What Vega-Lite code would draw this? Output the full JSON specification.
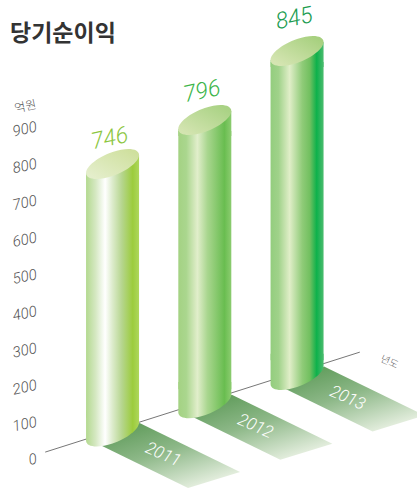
{
"$schema":"https://vega.github.io/schema/vega-lite/v6.json",
"width":417,"height":490,"padding":0,"autosize":{"type":"none"},
"background":"white",
"config":{"view":{"stroke":null}},
"title":{"text":"당기순이익","anchor":"start","dx":10,"offset":-64,"baseline":"alphabetic","font":"Noto Sans CJK KR","fontSize":23,"fontWeight":"bold","color":"#333333"},
"data":{"values":[{"year":2011,"value":746},{"year":2012,"value":796},{"year":2013,"value":845}]},
"resolve":{"scale":{"y":"independent"}},
"layer":[
{"data":{"values":[{"unit":"년도"}]},
 "mark":{"type":"rule","color":"#777777","strokeWidth":1},
  "encoding":{
   "x":{"datum":2010.27,"type":"quantitative","scale":{"domain":[2009.78,2014.3],"range":[0,417],"nice":false,"zero":false,"padding":0},"axis":null},
   "x2":{"datum":2013.68},
   "y":{"datum":16,"type":"quantitative","scale":{"domain":[0,900],"range":[458,126],"nice":false,"zero":false},
    "axis":{"orient":"left","values":[0,100,200,300,400,500,600,700,800,900],"offset":-36,"domain":false,"ticks":false,"grid":false,"labelPadding":0,"labelAngle":-12,"labelAlign":"right","labelBaseline":"middle","labelFont":"Roboto","labelFontStyle":"italic","labelFontWeight":300,"labelFontSize":15,"labelColor":"#555555","title":"억원","titleX":-11,"titleY":106,"titleAngle":-12,"titleAlign":"center","titleBaseline":"middle","titleFont":"Noto Sans CJK KR","titleFontWeight":300,"titleFontSize":12,"titleColor":"#555555"}},
   "y2":{"datum":287}}},
{"data":{"values":[{"unit":"년도"}]},
 "mark":{"type":"text","angle":25,"font":"Noto Sans CJK KR","fontSize":10,"fontWeight":300,"color":"#666666"},
  "encoding":{"text":{"field":"unit"},"x":{"datum":2014.0,"type":"quantitative"},"y":{"datum":260,"type":"quantitative","scale":{"domain":[0,900],"range":[458,126],"nice":false,"zero":false},"axis":null}}},
{"mark":{"type":"point","filled":true,"opacity":1,"size":10000,"strokeWidth":0,"shape":"M-.25,.27L.54,-.17L2.55,.81L1.51,1.13Z",
   "color":{"gradient":"linear","x1":0.1,"y1":0.05,"x2":0.75,"y2":1,"stops":[{"offset":0,"color":"#5d9a58"},{"offset":0.45,"color":"#8db888"},{"offset":1,"color":"#ecf3e6"}]}},
  "encoding":{
   "x":{"field":"year","type":"quantitative"},
   "yOffset":{"field":"year","type":"quantitative","scale":{"domain":[2011,2013],"range":[0,-56.5]}},
   "y":{"datum":0,"type":"quantitative","scale":{"domain":[0,746,796,845],"range":[431.5,164,148.5,107.5],"zero":false,"nice":false},"axis":null}}},
{"transform":[{"filter":"datum.year==2011"}],
 "mark":{"type":"bar","orient":"vertical","width":53,"color":{"gradient":"linear","stops":[{"offset":0,"color":"#b3d98f"},{"offset":0.18,"color":"#d5e8c2"},{"offset":0.36,"color":"#ffffff"},{"offset":0.5,"color":"#dcebcb"},{"offset":0.68,"color":"#b5d58d"},{"offset":0.88,"color":"#9ccc3c"},{"offset":1,"color":"#aed75c"}]}},
 "encoding":{"x":{"field":"year","type":"quantitative"},
   "y":{"field":"value","type":"quantitative","scale":{"domain":[0,746],"range":[431.5,175],"zero":false,"nice":false},"axis":null},
   "y2":{"datum":40}}},
{"transform":[{"filter":"datum.year==2012"}],
 "mark":{"type":"bar","orient":"vertical","width":53,"color":{"gradient":"linear","stops":[{"offset":0,"color":"#a4d283"},{"offset":0.15,"color":"#aad68e"},{"offset":0.36,"color":"#e1eecb"},{"offset":0.55,"color":"#a9d68f"},{"offset":0.87,"color":"#69bd50"},{"offset":1,"color":"#8ccc70"}]}},
 "encoding":{"x":{"field":"year","type":"quantitative"},
   "y":{"field":"value","type":"quantitative","scale":{"domain":[0,796],"range":[403,131],"zero":false,"nice":false},"axis":null},
   "y2":{"datum":40}}},
{"transform":[{"filter":"datum.year==2013"}],
 "mark":{"type":"bar","orient":"vertical","width":53,"color":{"gradient":"linear","stops":[{"offset":0,"color":"#93cd7e"},{"offset":0.15,"color":"#a0d28a"},{"offset":0.36,"color":"#e0eec8"},{"offset":0.6,"color":"#8fcb78"},{"offset":0.74,"color":"#72c060"},{"offset":0.87,"color":"#0db14b"},{"offset":1,"color":"#4cbc6f"}]}},
 "encoding":{"x":{"field":"year","type":"quantitative"},
   "y":{"field":"value","type":"quantitative","scale":{"domain":[0,845],"range":[375,62],"zero":false,"nice":false},"axis":null},
   "y2":{"datum":40}}},
{"mark":{"type":"point","filled":true,"opacity":1,"size":2809,"strokeWidth":0,"shape":"M-1,-.8L-1,.34C-1,.59 -.552,.641 0,.453C.552,.265 1,-.09 1,-.34L1,-.8Z"},
 "encoding":{
   "x":{"field":"year","type":"quantitative"},
   "yOffset":{"field":"year","type":"quantitative","scale":{"domain":[2011,2013],"range":[0,-56.5]}},
   "y":{"datum":0,"type":"quantitative","scale":{"domain":[0,746,796,845],"range":[431.5,164,148.5,107.5],"zero":false,"nice":false},"axis":null},
   "fill":{"condition":[
    {"test":"datum.year==2011","value":{"gradient":"linear","stops":[{"offset":0,"color":"#b3d98f"},{"offset":0.18,"color":"#d5e8c2"},{"offset":0.36,"color":"#ffffff"},{"offset":0.5,"color":"#dcebcb"},{"offset":0.68,"color":"#b5d58d"},{"offset":0.88,"color":"#9ccc3c"},{"offset":1,"color":"#aed75c"}]}},
    {"test":"datum.year==2012","value":{"gradient":"linear","stops":[{"offset":0,"color":"#a4d283"},{"offset":0.15,"color":"#aad68e"},{"offset":0.36,"color":"#e1eecb"},{"offset":0.55,"color":"#a9d68f"},{"offset":0.87,"color":"#69bd50"},{"offset":1,"color":"#8ccc70"}]}}
   ],"value":{"gradient":"linear","stops":[{"offset":0,"color":"#93cd7e"},{"offset":0.15,"color":"#a0d28a"},{"offset":0.36,"color":"#e0eec8"},{"offset":0.6,"color":"#8fcb78"},{"offset":0.74,"color":"#72c060"},{"offset":0.87,"color":"#0db14b"},{"offset":1,"color":"#4cbc6f"}]}}}},
{"mark":{"type":"point","filled":true,"opacity":1,"size":2809,"strokeWidth":0,"shape":"M-1,.34L1,-.34L1,.6L-1,.6Z"},
 "encoding":{
   "x":{"field":"year","type":"quantitative"},
   "y":{"field":"value","type":"quantitative","scale":{"domain":[746,796,845],"range":[164,120,51],"zero":false,"nice":false},"axis":null},
   "fill":{"condition":[
    {"test":"datum.year==2011","value":{"gradient":"linear","stops":[{"offset":0,"color":"#b3d98f"},{"offset":0.18,"color":"#d5e8c2"},{"offset":0.36,"color":"#ffffff"},{"offset":0.5,"color":"#dcebcb"},{"offset":0.68,"color":"#b5d58d"},{"offset":0.88,"color":"#9ccc3c"},{"offset":1,"color":"#aed75c"}]}},
    {"test":"datum.year==2012","value":{"gradient":"linear","stops":[{"offset":0,"color":"#a4d283"},{"offset":0.15,"color":"#aad68e"},{"offset":0.36,"color":"#e1eecb"},{"offset":0.55,"color":"#a9d68f"},{"offset":0.87,"color":"#69bd50"},{"offset":1,"color":"#8ccc70"}]}}
   ],"value":{"gradient":"linear","stops":[{"offset":0,"color":"#93cd7e"},{"offset":0.15,"color":"#a0d28a"},{"offset":0.36,"color":"#e0eec8"},{"offset":0.6,"color":"#8fcb78"},{"offset":0.74,"color":"#72c060"},{"offset":0.87,"color":"#0db14b"},{"offset":1,"color":"#4cbc6f"}]}}}},
{"mark":{"type":"point","filled":true,"opacity":1,"size":2809,"strokeWidth":0,"shape":"M1,-.34C1,-.09 .552,.265 0,.453C-.552,.641 -1,.59 -1,.34C-1,.09 -.552,-.265 0,-.453C.552,-.641 1,-.59 1,-.34Z"},
  "encoding":{
   "x":{"field":"year","type":"quantitative"},
   "y":{"field":"value","type":"quantitative","scale":{"domain":[746,796,845],"range":[164,120,51],"zero":false,"nice":false},"axis":null},
   "fill":{"condition":[
    {"test":"datum.year==2011","value":{"gradient":"linear","x1":0.1,"y1":0.9,"x2":0.9,"y2":0.1,"stops":[{"offset":0,"color":"#e4eecb"},{"offset":1,"color":"#cfe09e"}]}},
    {"test":"datum.year==2012","value":{"gradient":"linear","x1":0.1,"y1":0.9,"x2":0.9,"y2":0.1,"stops":[{"offset":0,"color":"#d3e4b0"},{"offset":1,"color":"#a9d284"}]}}
   ],"value":{"gradient":"linear","x1":0.1,"y1":0.9,"x2":0.9,"y2":0.1,"stops":[{"offset":0,"color":"#d5e5b2"},{"offset":1,"color":"#a7d07f"}]}}}},
{"mark":{"type":"text","angle":24,"font":"Roboto","fontStyle":"italic","fontWeight":300,"fontSize":17,"color":"white","dx":55.5,"dy":0.6},
  "encoding":{"text":{"field":"year","type":"nominal"},
   "x":{"field":"year","type":"quantitative"},
   "yOffset":{"field":"year","type":"quantitative","scale":{"domain":[2011,2013],"range":[0,-56.5]}},
   "y":{"datum":0,"type":"quantitative","scale":{"domain":[0,746,796,845],"range":[431.5,164,148.5,107.5],"zero":false,"nice":false},"axis":null}}},
{
 "mark":{"type":"text","angle":-12,"font":"Roboto","fontStyle":"italic","fontWeight":300,"fontSize":23,"dx":-3},
 "encoding":{
  "x":{"field":"year","type":"quantitative"},
  "y":{"field":"value","type":"quantitative","scale":{"domain":[746,796,845],"range":[138,91,18],"zero":false,"nice":false},"axis":null},
  "text":{"field":"value","type":"quantitative"},
  "color":{"field":"year","type":"nominal","scale":{"domain":[2011,2012,2013],"range":["#8cc63f","#3cb54a","#1a9c50"]},"legend":null}
 }
}
]
}
